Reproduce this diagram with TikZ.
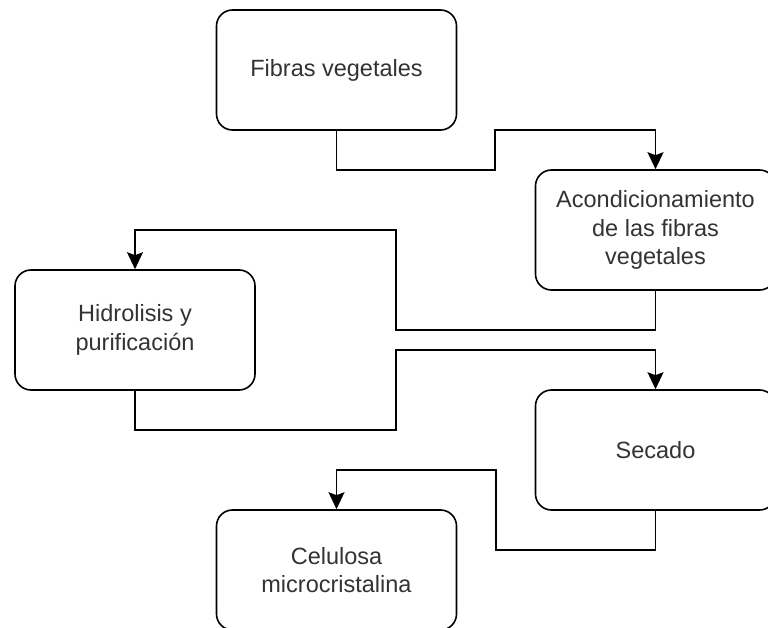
\documentclass[tikz,border=0pt]{standalone}
\usepackage{fontspec}
\setmainfont{Liberation Sans}
\usepackage{tikz}
\usetikzlibrary{arrows.meta,positioning}

\begin{document}
\begin{tikzpicture}[x=1pt,y=-1pt,
        stepbox/.style={draw, line width=1.6pt, rounded corners=16pt,
            minimum width=240pt, minimum height=120pt, align=center,
            text=black!80, font=\fontsize{23.5}{28.5}\selectfont},
        flow/.style={draw, line width=1.6pt,
            -{Stealth[length=17pt,width=16pt,inset=3pt]}}]
            \useasboundingbox (0,0) rectangle (768,628);
            % pasos del proceso
            \node[stepbox] (fibras) at (336.5,70) {Fibras vegetales};
            \node[stepbox] (acond) at (655.5,230)
                {Acondicionamiento\\de las fibras\\vegetales};
            \node[stepbox] (hidro) at (135,330) {Hidrolisis y\\purificación};
            \node[stepbox] (secado) at (655.5,450) {Secado};
            \node[stepbox] (celulosa) at (336.5,570) {Celulosa\\microcristalina};
            % quiebres de las lineas
            \coordinate (q1a) at (495,170);
            \coordinate (q1b) at (495,130);
            \coordinate (q2a) at (396,330);
            \coordinate (q2b) at (396,230);
            \coordinate (q3a) at (396,430);
            \coordinate (q3b) at (396,350);
            \coordinate (q4a) at (496,550);
            \coordinate (q4b) at (496,470);
            \draw[flow] (fibras.south) |- (q1a) -- (q1b) -| (acond.north);
            \draw[flow] (acond.south) |- (q2a) -- (q2b) -| (hidro.north);
            \draw[flow] (hidro.south) |- (q3a) -- (q3b) -| (secado.north);
            \draw[flow] (secado.south) |- (q4a) -- (q4b) -| (celulosa.north);
        \end{tikzpicture}
\end{document}
